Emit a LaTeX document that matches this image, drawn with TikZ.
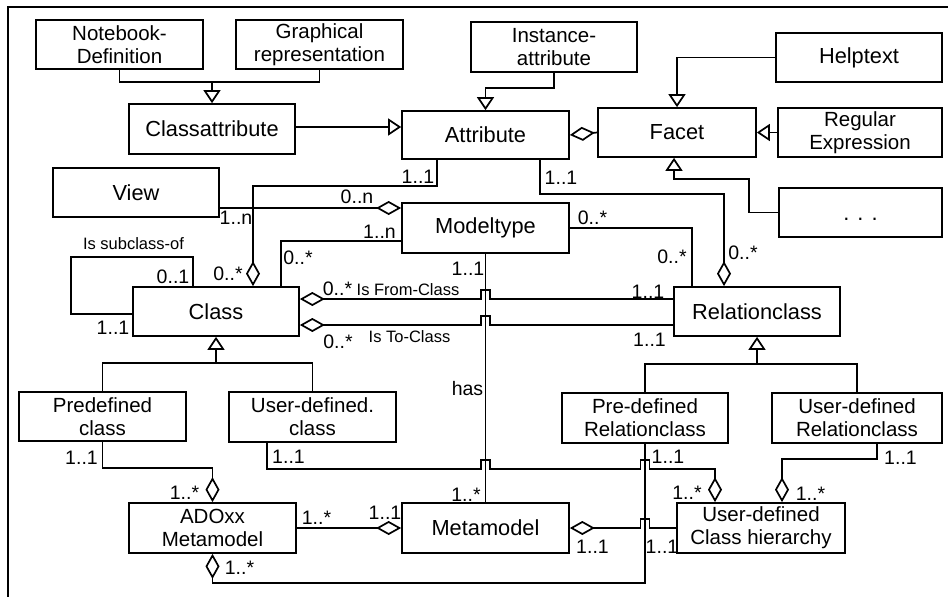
\documentclass[tikz,border=0pt]{standalone}
\usepackage{fontspec}
\setmainfont{Liberation Sans}
\usetikzlibrary{arrows.meta}
\begin{document}
\begin{tikzpicture}[x=1pt,y=-1pt,line width=1.7pt,
  box/.style={draw,rectangle,inner sep=0pt,align=center,font=\fontsize{21.8}{24}\selectfont},
  box2/.style={box,font=\fontsize{20.5}{23}\selectfont},
  sz/.style 2 args={minimum width=#1,minimum height=#2},
  mult/.style={inner sep=0pt,font=\fontsize{19.5}{22}\selectfont},
  rname/.style={inner sep=0pt,font=\fontsize{16.5}{19}\selectfont},
  gen/.style={-{Triangle[open,length=13pt,width=17pt]}},
  agg/.style={{Diamond[open,length=25pt,width=14pt]}-},
  aggend/.style={-{Diamond[open,length=25pt,width=14pt]}}]

\fill[white] (0,0) rectangle (948,597);
\useasboundingbox (0,0) rectangle (948,597);

% frame
\draw (8,597) -- (8,7) -- (948,7);

% classes
\node[box2,sz={167}{49}] (nb)    at (119.5,44.5) {Notebook-\\Definition};
\node[box2,sz={167}{49}] (gr)    at (319.5,44.5) {Graphical\\representation};
\node[box,sz={166}{50}]  (ca)    at (212,129)    {Classattribute};
\node[box2,sz={166}{50}] (ia)    at (554,47)     {Instance-\\attribute};
\node[box,sz={167}{48}]  (attr)  at (485.5,135)  {Attribute};
\node[box,sz={158}{49}]  (facet) at (677,132.5)  {Facet};
\node[box,sz={166}{49}]  (help)  at (859,57.5)   {Helptext};
\node[box2,sz={164}{49}] (regex) at (860,132.5)  {Regular\\Expression};
\node[box,sz={163}{49}]  (dots)  at (860.5,212.5){\vphantom{A}. . .};
\node[box,sz={166}{49}]  (view)  at (136,192.5)  {View};
\node[box,sz={167}{50}]  (mt)    at (485.5,228)  {Modeltype};
\node[box,sz={166}{49}]  (cls)   at (216,311.5)  {Class};
\node[box,sz={166}{49}]  (rc)    at (757,311.5)  {Relationclass};
\node[box2,sz={167}{49}] (pc)    at (102.5,416.5){Predefined\\class};
\node[box2,sz={167}{50}] (uc)    at (312.5,417)  {User-defined.\\class};
\node[box2,sz={166}{50}] (prc)   at (645,418)    {Pre-defined\\Relationclass};
\node[box2,sz={170}{50}] (urc)   at (857,418)    {User-defined\\Relationclass};
\node[box2,sz={167}{50}] (ado)   at (212.5,528)  {ADOxx\\Metamodel};
\node[box,sz={167}{50}]  (mm)    at (485.5,528)  {Metamodel};
\node[box2,sz={168}{50}] (uch)   at (761,528)    {User-defined\\Class hierarchy};

% generalisations
\draw (nb.south) -- ++(0,12) -| (gr.south);
\draw[gen] (ca.north |- 0,81) -- (ca.north);
\draw[gen] (ca.east |- 0,127) -- (attr.west |- 0,127);
\draw[gen] (ia.south) -- ++(0,15) -| (attr.north);
\draw[gen] (help.west) -| (facet.north);
\draw[gen] (regex.west) -- (facet.east);
\draw[gen] (dots.west) -- (749,212.5) -- (749,179) -- (674,179) -- (facet.south -| 674,0);
\draw[gen] (cls.south |- 0,363) -- (cls.south);
\draw (pc.north) |- (216,363) -| (uc.north);
\draw[gen] (rc.south |- 0,364) -- (rc.south);
\draw (prc.north) |- (757,364) -| (urc.north);

% associations and aggregations
\draw[agg] (attr.east) -- (facet.west);
\draw[aggend] (view.east |- 0,208) -- (mt.west |- 0,208);
\draw[agg] (cls.north -| 253,0) -- (253,186) -| (attr.south -| 437,0);
\draw (mt.west |- 0,241) -| (cls.north -| 281,0);
\draw (cls.north -| 193,0) |- (71,257) |- (cls.west |- 0,314);
\draw[agg] (cls.east |- 0,299) -- (481,299) -- (481,290) -- (490,290) -- (490,299) -- (rc.west |- 0,299);
\draw[agg] (cls.east |- 0,325) -- (481,325) -- (481,316) -- (490,316) -- (490,325) -- (rc.west |- 0,325);
\draw (mt.east) -| (rc.north -| 692,0);
\draw[agg] (rc.north -| 724,0) -- (724,194) -| (attr.south -| 540,0);
\draw (mt.south) -- (mm.north);
\draw[agg] (ado.north) -- ++(0,-34) -| (pc.south);
\draw[agg] (uch.north -| 715,0) -- (715,469) -- (649.5,469) -- (649.5,460) -- (640.5,460) -- (640.5,469)
  -- (490,469) -- (490,460) -- (481,460) -- (481,469) -- (267,469) -- (uc.south -| 267,0);
\draw[agg] (uch.north -| 782,0) -- (782,459) -| (urc.south -| 877,0);
\draw[agg] (ado.south) -- (212.5,583) -| (prc.south);
\draw[aggend] (ado.east) -- (mm.west);
\draw[agg] (mm.east) -- (640.5,528) -- (640.5,519) -- (649.5,519) -- (649.5,528) -- (uch.west);

% multiplicities and role names
\node[mult] (m1)  at (236,218)   {1..n};
\node[mult] (m2)  at (357,197)   {0..n};
\node[mult] (m3)  at (418,177)   {1..1};
\node[mult] (m4)  at (228,274)   {0..*};
\node[mult] (m5)  at (379.5,232) {1..n};
\node[mult] (m6)  at (298,258)   {0..*};
\node[rname] (r1) at (133.5,244) {Is subclass-of};
\node[mult] (m7)  at (173,277)   {0..1};
\node[mult] (m8)  at (113,328)   {1..1};
\node[mult] (m9)  at (337.5,289) {0..*};
\node[rname] (r2) at (408,290)   {Is From-Class};
\node[mult] (m10) at (648,292)   {1..1};
\node[mult] (m11) at (338,342)   {0..*};
\node[rname] (r3) at (409.5,337) {Is To-Class};
\node[mult] (m12) at (649.5,340) {1..1};
\node[mult] (m13) at (592.5,218) {0..*};
\node[mult] (m14) at (672,257)   {0..*};
\node[mult] (m15) at (561,178)   {1..1};
\node[mult] (m16) at (743,253)   {0..*};
\node[mult] (m17) at (468,269)   {1..1};
\node[mult] (r4)  at (467.5,389) {has};
\node[mult] (m18) at (466,495)   {1..*};
\node[mult] (m19) at (81.5,458)  {1..1};
\node[mult] (m20) at (184.5,493) {1..*};
\node[mult] (m21) at (288.5,457) {1..1};
\node[mult] (m22) at (687,493)   {1..*};
\node[mult] (m23) at (900.5,458) {1..1};
\node[mult] (m24) at (810.5,494) {1..*};
\node[mult] (m25) at (668,457)   {1..1};
\node[mult] (m26) at (239.5,568) {1..*};
\node[mult] (m27) at (316.5,518) {1..*};
\node[mult] (m28) at (385,513)   {1..1};
\node[mult] (m29) at (592.5,547) {1..1};
\node[mult] (m30) at (662,547)   {1..1};
\end{tikzpicture}
\end{document}
